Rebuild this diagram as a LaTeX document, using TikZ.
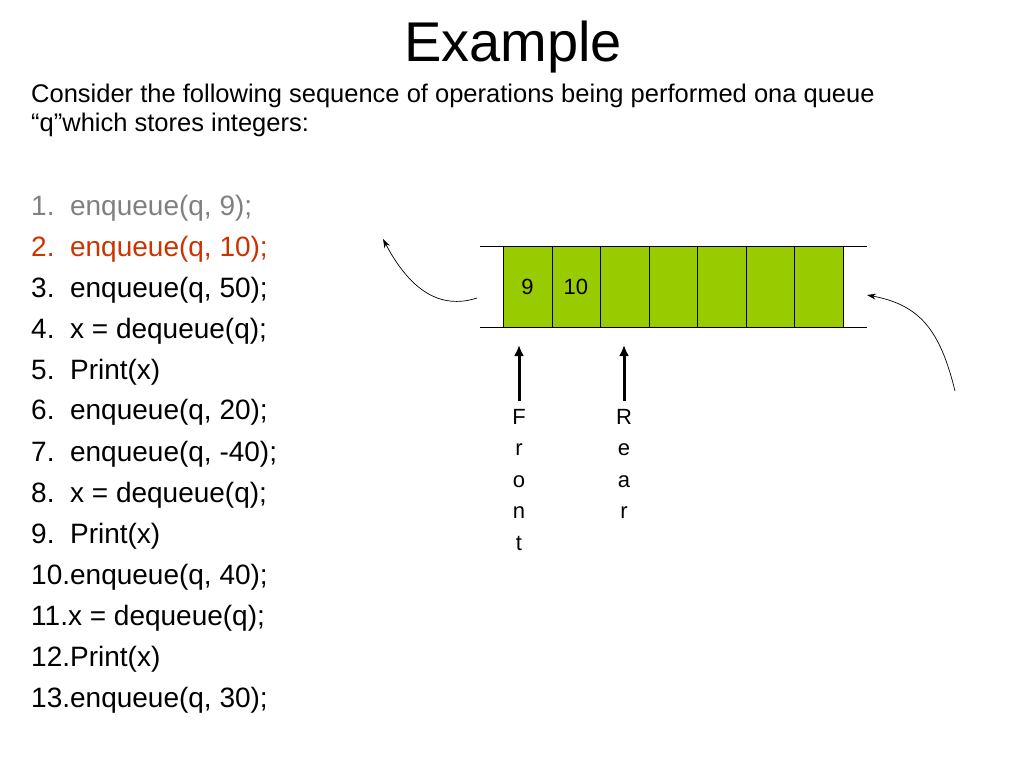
\documentclass[tikz,border=0pt]{standalone}
\usepackage{fontspec}
\setmainfont{Liberation Sans}
\usetikzlibrary{arrows.meta}
\begin{document}
\begin{tikzpicture}[x=1pt,y=-1pt,
  cell/.style={draw=black,fill={rgb,255:red,153;green,204;blue,0},minimum width=48.5pt,minimum height=81pt,inner sep=0pt,anchor=north west,font=\fontsize{22}{26}\selectfont},
  item/.style={anchor=west,font=\fontsize{28}{32}\selectfont,inner sep=0pt},
  vert/.style={font=\fontsize{22}{31.5}\selectfont,align=center,anchor=north,inner sep=0pt},
  bigarrow/.style={-{Latex[length=11pt,width=10pt]},line width=3pt},
  curv/.style={-{Stealth[length=9pt,width=6pt]},line width=0.7pt}]
\useasboundingbox (0,0) rectangle (1024,768);
\node[font=\fontsize{56}{60}\selectfont,inner sep=0pt] (title) at (513,47) {Example};
\node[anchor=north west,align=left,inner sep=0pt,font=\fontsize{25.5}{29}\selectfont] (intro) at (31,84) {Consider the following sequence of operations being performed ona queue\\“q”which stores integers:};
\node[item,text={rgb,255:red,128;green,128;blue,128}] (l1) at (31,208) {1.\ \ enqueue(q, 9);};
\node[item,text={rgb,255:red,204;green,51;blue,0}] (l2) at (31,249) {2.\ \ enqueue(q, 10);};
\node[item] (l3) at (31,290) {3.\ \ enqueue(q, 50);};
\node[item] (l4) at (31,331) {4.\ \ x = dequeue(q);};
\node[item] (l5) at (31,372) {5.\ \ Print(x)};
\node[item] (l6) at (31,412) {6.\ \ enqueue(q, 20);};
\node[item] (l7) at (31,454) {7.\ \ enqueue(q, -40);};
\node[item] (l8) at (31,495) {8.\ \ x = dequeue(q);};
\node[item] (l9) at (31,536) {9.\ \ Print(x)};
\node[item] (l10) at (31,577) {10.enqueue(q, 40);};
\node[item] (l11) at (31,618) {11.x = dequeue(q);};
\node[item] (l12) at (31,659) {12.Print(x)};
\node[item] (l13) at (31,700) {13.enqueue(q, 30);};
\node[cell] (c1) at (503,246) {9};
\node[cell] (c2) at (551.5,246) {10};
\node[cell] (c3) at (600,246) {};
\node[cell] (c4) at (648.5,246) {};
\node[cell] (c5) at (697,246) {};
\node[cell] (c6) at (745.5,246) {};
\node[cell] (c7) at (794,246) {};
\draw[line width=0.8pt] (480,246) -- (867,246);
\draw[line width=0.8pt] (480,327) -- (867,327);
\coordinate (ls) at (477,298); \coordinate (le) at (383,239);
\coordinate (rs) at (955,391); \coordinate (re) at (867,295);
\draw[curv] (ls) .. controls (440,310) and (410,290) .. (le);
\draw[curv] (rs) .. controls (940,330) and (920,305) .. (re);
\node[vert] (front) at (519,409) {F\\r\\o\\n\\t};
\node[vert] (rear) at (624,409) {R\\e\\a\\r};
\draw[bigarrow] (front.north) ++(0,-8) coordinate (fa) -- ++(0,-56);
\draw[bigarrow] (rear.north) ++(0,-8) coordinate (ra) -- ++(0,-56);
\end{tikzpicture}
\end{document}
